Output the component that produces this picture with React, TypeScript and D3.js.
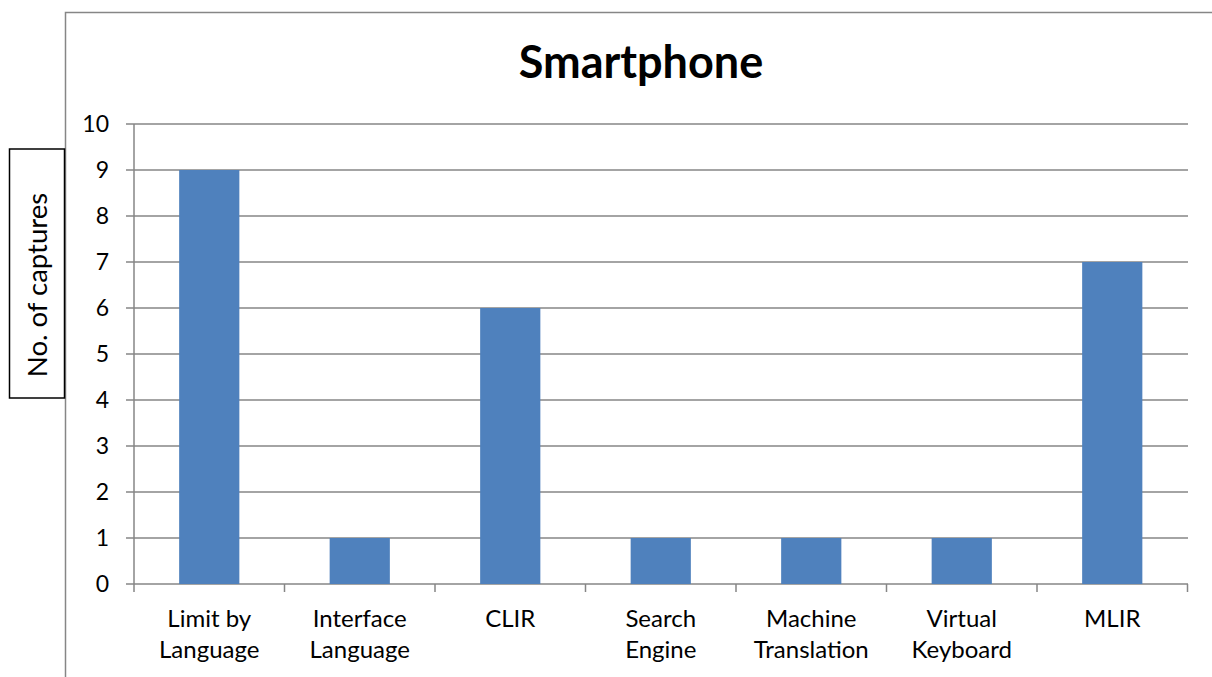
import React from "react";
import * as d3 from "d3";

const categories: string[][] = [
  ["Limit by", "Language"],
  ["Interface", "Language"],
  ["CLIR"],
  ["Search", "Engine"],
  ["Machine", "Translation"],
  ["Virtual", "Keyboard"],
  ["MLIR"],
];
const values: number[] = [9, 1, 6, 1, 1, 1, 7];
const yTicks: number[] = [0, 1, 2, 3, 4, 5, 6, 7, 8, 9, 10];
const title = "Smartphone";
const yLabel = "No. of captures";

const W = 1212;
const H = 677;
const FONT = "Lato, 'Open Sans', sans-serif";

export default function App() {
  const x = d3
    .scaleBand<number>()
    .domain(values.map((_, i) => i))
    .range([134, 1187.5])
    .paddingInner(0.6)
    .paddingOuter(0.3);
  const y = d3.scaleLinear().domain([0, 10]).range([584, 124]);
  const step = x.step();
  const grid = "#868686";

  return (
    <svg
      width={W}
      height={H}
      style={{ position: "absolute", left: 0, top: 0, background: "#fff" }}
      fontFamily={FONT}
    >
      {/* outer chart border */}
      <rect x={65.5} y={12.5} width={W + 20} height={H + 20} fill="none" stroke={grid} strokeWidth={1.5} />
      {/* gridlines */}
      {yTicks.map((t) => (
        <line key={"g" + t} x1={126} x2={1188} y1={y(t)} y2={y(t)} stroke={grid} strokeWidth={1.5} />
      ))}
      {/* bars */}
      {values.map((v, i) => (
        <rect
          key={"b" + i}
          x={x(i)!}
          y={y(v)}
          width={x.bandwidth()}
          height={y(0) - y(v)}
          fill="#4F81BD"
        />
      ))}
      {/* y axis */}
      <line x1={134} x2={134} y1={124} y2={584} stroke={grid} strokeWidth={1.5} />
      {/* x category ticks */}
      {d3.range(values.length + 1).map((i) => (
        <line
          key={"xt" + i}
          x1={134 + i * step}
          x2={134 + i * step}
          y1={584}
          y2={592}
          stroke={grid}
          strokeWidth={1.5}
        />
      ))}
      {/* y tick labels */}
      {yTicks.map((t) => (
        <text key={"yl" + t} x={109} y={y(t)} dy="0.36em" textAnchor="end" fontSize={23} fill="#000">
          {t}
        </text>
      ))}
      {/* x labels */}
      {categories.map((lines, i) => (
        <text key={"xl" + i} x={x(i)! + x.bandwidth() / 2} y={627} textAnchor="middle" fontSize={24} fill="#000">
          {lines.map((l, j) => (
            <tspan key={j} x={x(i)! + x.bandwidth() / 2} dy={j === 0 ? 0 : 31}>
              {l}
            </tspan>
          ))}
        </text>
      ))}
      {/* title */}
      <text x={641} y={78} textAnchor="middle" fontSize={45} fontWeight="bold" fill="#000">
        {title}
      </text>
      {/* y axis label box */}
      <rect x={9.5} y={149} width={55} height={249} fill="#fff" stroke="#000" strokeWidth={1.5} />
      <text
        transform={`translate(37,285) rotate(-90)`}
        textAnchor="middle"
        dy="0.35em"
        fontSize={27.5}
        fill="#000"
      >
        {yLabel}
      </text>
    </svg>
  );
}
